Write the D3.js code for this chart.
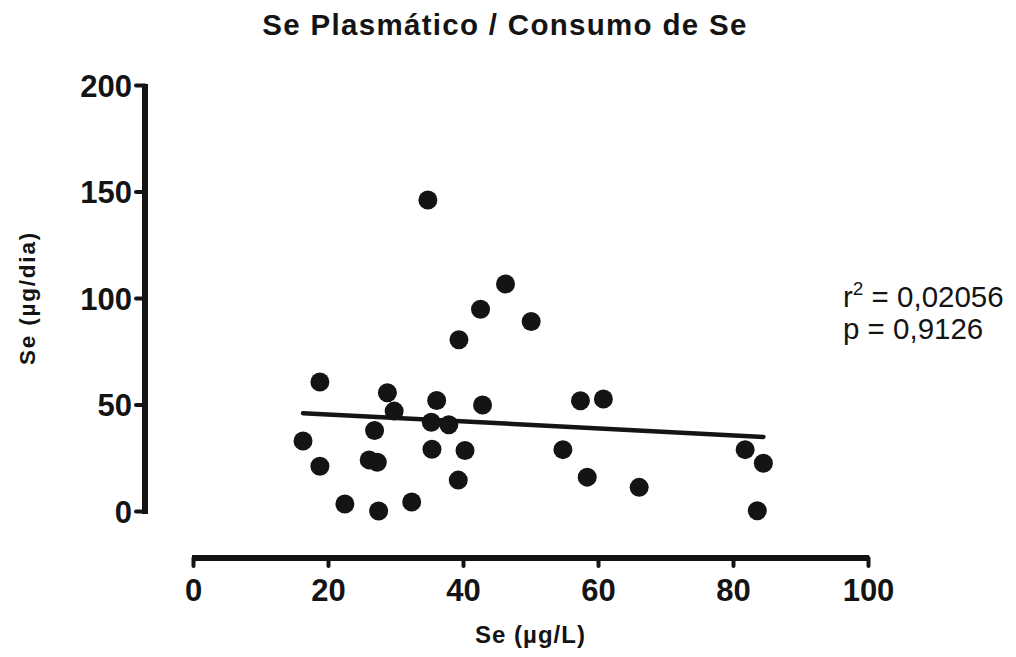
<!DOCTYPE html>
<html>
<head>
<meta charset="utf-8">
<script src="https://cdn.jsdelivr.net/npm/d3@7"></script>
<style>
  html, body { margin: 0; padding: 0; background: #fff; }
  svg { display: block; }
  text { font-family: "Liberation Sans", Arial, sans-serif; fill: #141414; }
</style>
</head>
<body>
<svg id="chart" width="1016" height="657"></svg>
<script>
// Plasma selenium (µg/L) against selenium intake (µg/day)
const plasmaSe = [16.3, 18.8, 18.8, 22.5, 26.1, 26.9, 27.3, 27.5, 28.8, 29.8,
                  32.4, 34.8, 35.3, 35.4, 36.1, 37.9, 39.3, 39.4, 40.3, 42.6,
                  42.9, 46.3, 50.1, 54.8, 57.4, 58.4, 60.8, 66.1, 81.8, 84.5, 83.6];
const intakeSe = [32.9, 60.6, 21.0, 3.3, 24.0, 37.8, 22.9, 0.0, 55.5, 46.9,
                  4.2, 146.0, 41.7, 29.0, 51.9, 40.5, 14.5, 80.4, 28.4, 94.7,
                  49.8, 106.6, 89.0, 28.8, 51.8, 15.9, 52.6, 11.1, 28.8, 22.4, 0.1];

const xTicks = [0, 20, 40, 60, 80, 100];
const yTicks = [0, 50, 100, 150, 200];

const titleText = "Se Plasmático / Consumo de Se";
const xTitle = "Se (µg/L)";
const yTitle = "Se (µg/dia)";
const statLines = ["r² = 0,02056", "p = 0,9126"];

const ink = "#141414";
const svg = d3.select("#chart");

const x = d3.scaleLinear().domain([0, 100]).range([193, 868]);
const y = d3.scaleLinear().domain([0, 200]).range([511, 85]);

// Title
svg.append("text")
  .attr("x", 505).attr("y", 35)
  .attr("text-anchor", "middle")
  .style("font-size", "29.5px").style("font-weight", "bold")
  .style("letter-spacing", "1.3px")
  .text(titleText);

// Y axis
const yAxis = d3.axisLeft(y).tickValues(yTicks).tickSize(9).tickPadding(4).tickSizeOuter(0);
const gy = svg.append("g").attr("transform", "translate(145,0)").call(yAxis);
gy.select(".domain").attr("stroke", ink).attr("stroke-width", 6)
  .attr("d", `M0,${y(200) - 1}V${y(0) + 3}`);
gy.selectAll(".tick line").attr("stroke", ink).attr("stroke-width", 4).attr("stroke-linecap", "round");
gy.selectAll(".tick text")
  .style("font-size", "31px").style("font-weight", "bold").attr("fill", ink)
  .attr("dy", "0.36em");

// X axis
const xAxis = d3.axisBottom(x).tickValues(xTicks).tickSize(8).tickPadding(13).tickSizeOuter(0);
const gx = svg.append("g").attr("transform", "translate(0,558)").call(xAxis);
gx.select(".domain").attr("stroke", ink).attr("stroke-width", 6)
  .attr("d", `M${x(0) - 1},0H${x(100) + 1}`);
gx.selectAll(".tick line").attr("stroke", ink).attr("stroke-width", 4).attr("stroke-linecap", "round");
gx.selectAll(".tick text")
  .style("font-size", "31px").style("font-weight", "bold").attr("fill", ink);

// Axis titles
svg.append("text")
  .attr("x", (x(0) + x(100)) / 2).attr("y", 643)
  .attr("text-anchor", "middle")
  .style("font-size", "24px").style("font-weight", "bold")
  .style("letter-spacing", "1px")
  .text(xTitle);

svg.append("text")
  .attr("transform", `translate(35,${(y(0) + y(200)) / 2}) rotate(-90)`)
  .attr("text-anchor", "middle")
  .style("font-size", "22.5px").style("font-weight", "bold")
  .style("letter-spacing", "1.8px")
  .text(yTitle);

// Least-squares fit across the observed range
const pts = plasmaSe.map((v, i) => [v, intakeSe[i]]);
const mx = d3.mean(plasmaSe), my = d3.mean(intakeSe);
const sxy = d3.sum(pts, d => (d[0] - mx) * (d[1] - my));
const sxx = d3.sum(pts, d => (d[0] - mx) ** 2);
const slope = sxy / sxx, intercept = my - slope * mx;
const [xMin, xMax] = d3.extent(plasmaSe);
svg.append("path")
  .datum([xMin, xMax])
  .attr("d", d3.line().x(d => x(d)).y(d => y(intercept + slope * d)))
  .attr("stroke", ink).attr("stroke-width", 4.5).attr("stroke-linecap", "round")
  .attr("fill", "none");

// Points
svg.append("g").selectAll("circle")
  .data(pts).join("circle")
  .attr("cx", d => x(d[0])).attr("cy", d => y(d[1]))
  .attr("r", 9.5).attr("fill", ink);

// Regression statistics
const stat = svg.append("text").style("font-size", "29.5px");
stat.append("tspan").attr("x", 843).attr("y", 307).text("r");
stat.append("tspan").attr("dy", -12).style("font-size", "19px").text("2");
stat.append("tspan").attr("dy", 12).text(statLines[0].slice(2));
svg.append("text").attr("x", 843).attr("y", 339).style("font-size", "29.5px").text(statLines[1]);
</script>
</body>
</html>
